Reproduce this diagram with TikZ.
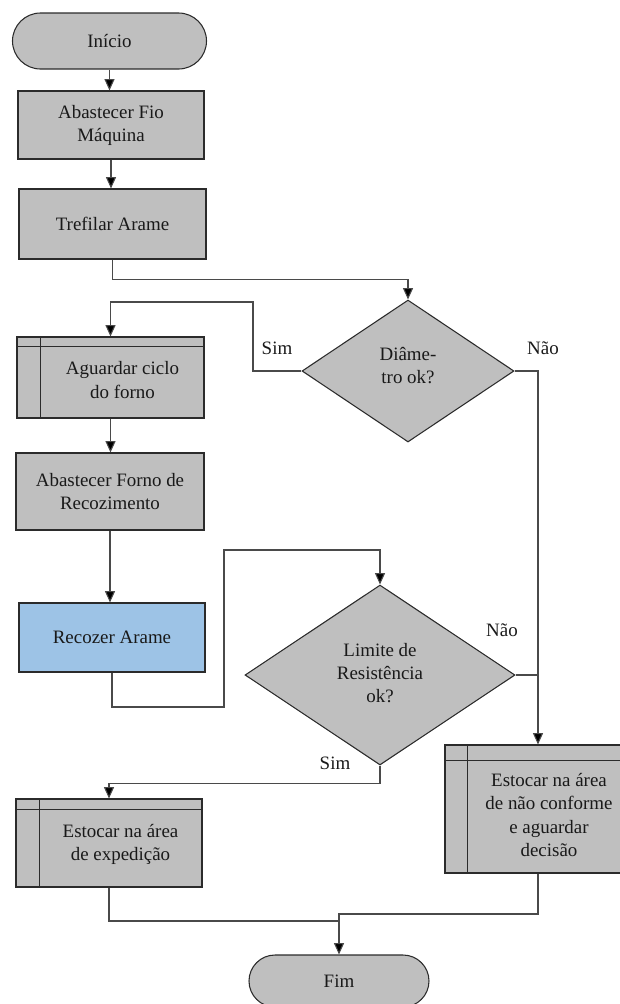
\documentclass[tikz,border=0pt]{standalone}
\usepackage{fontspec}
\setmainfont{Liberation Serif}
\usetikzlibrary{arrows.meta,shapes.geometric,calc}
\newdimen\pxu
\pxu=0.75pt
\definecolor{boxgray}{HTML}{BFBFBF}
\definecolor{boxblue}{HTML}{9DC3E6}
\definecolor{bordc}{HTML}{2B2B2B}
\definecolor{linec}{HTML}{4A4A4A}
\tikzset{
  base/.style={draw=bordc, line width=0.8pt, fill=boxgray, inner sep=0pt,
    font=\fontsize{14.2}{17.3}\selectfont, align=center, text=black!90},
  procbox/.style={base, rectangle},
  termbox/.style={base, rectangle, rounded corners=19pt},
  decbox/.style={base, diamond, aspect=1},
  txt/.style={inner sep=0pt, font=\fontsize{14.2}{17.3}\selectfont, align=center, text=black!90},
  conn/.style={draw=linec, line width=0.8pt},
  arr/.style={conn, -{Triangle[width=7.5pt,length=8.5pt,fill=black]}},
  lbl/.style={inner sep=0pt, font=\fontsize{14.2}{17.3}\selectfont, text=black!90},
}
\begin{document}
\begin{tikzpicture}[x=0.75pt,y=-0.75pt]
\useasboundingbox (0,0) rectangle (620,1004);
\clip (0,0) rectangle (620,1004);

% nodes
\node[termbox, minimum width=194\pxu, minimum height=56\pxu, rounded corners=21pt] (start) at (109.5,41) {Início};
\node[procbox, minimum width=186\pxu, minimum height=68\pxu] (fio) at (111,125) {Abastecer Fio\\Máquina};
\node[procbox, minimum width=187\pxu, minimum height=70\pxu] (tref) at (112.5,224) {Trefilar Arame};
\node[decbox, minimum width=212\pxu, minimum height=142\pxu] (d1) at (408,371) {};
\node[txt] (d1t) at (408,366) {Diâme-\\tro ok?};

\node[procbox, minimum width=187\pxu, minimum height=81\pxu] (aguardar) at (110.5,377.5) {};
\node[txt] (aguardart) at (122.5,380) {Aguardar ciclo\\do forno};

\node[procbox, minimum width=188\pxu, minimum height=77\pxu] (forno) at (110,491.5) {Abastecer Forno de\\Recozimento};
\node[procbox, fill=boxblue, minimum width=186\pxu, minimum height=69\pxu] (recozer) at (112,637.5) {Recozer Arame};

\node[decbox, minimum width=270\pxu, minimum height=180\pxu] (d2) at (380,675) {};
\node[txt] (d2t) at (380,673) {Limite de\\Resistência\\ok?};

\node[procbox, minimum width=186\pxu, minimum height=88\pxu] (exped) at (109,843) {};
\node[txt] (expedt) at (120.5,844) {Estocar na área\\de expedição};

\node[procbox, minimum width=186\pxu, minimum height=128\pxu] (naoconf) at (538,809) {};
\node[txt] (naoconft) at (549,815) {Estocar na área\\de não conforme\\e aguardar\\decisão};

\node[termbox, minimum width=180\pxu, minimum height=52\pxu, rounded corners=19.5pt] (fim) at (339,981) {Fim};

% subprocess inner lines
\draw[draw=bordc, line width=0.8pt] ([xshift=24\pxu]aguardar.north west) -- ([xshift=24\pxu]aguardar.south west);
\draw[draw=bordc, line width=0.8pt] ([yshift=-10\pxu]aguardar.north west) -- ([yshift=-10\pxu]aguardar.north east);
\draw[draw=bordc, line width=0.8pt] ([xshift=24\pxu]exped.north west) -- ([xshift=24\pxu]exped.south west);
\draw[draw=bordc, line width=0.8pt] ([yshift=-11\pxu]exped.north west) -- ([yshift=-11\pxu]exped.north east);
\draw[draw=bordc, line width=0.8pt] ([xshift=23\pxu]naoconf.north west) -- ([xshift=23\pxu]naoconf.south west);
\draw[draw=bordc, line width=0.8pt] ([yshift=-16\pxu]naoconf.north west) -- ([yshift=-16\pxu]naoconf.north east);

% junction coordinates
\coordinate (c1) at (253,302);
\coordinate (l1) at (224,707);
\coordinate (l2) at (224,550);
\coordinate (j1) at (339,921);
\coordinate (j2) at (339,914);

% connectors
\draw[arr] (start.south) -- (start.south |- fio.north);
\draw[arr] (fio.south) -- (fio.south |- tref.north);
\draw[arr] (tref.south) -- ++(0,20) -| (d1.north);
\draw[arr] (d1.west) -| (c1) -| (aguardar.north);
\draw[arr] (d1.east) -| (naoconf.north);
\draw[arr] (aguardar.south) -- (aguardar.south |- forno.north);
\draw[arr] (forno.south) -- (forno.south |- recozer.north);
\draw[arr] (recozer.south) |- (l1) -- (l2) -| (d2.north);
\draw[conn] (d2.east) -- (d2.east -| naoconf.north);
\draw[arr] (d2.south) -- ++(0,18) -| (exped.north);
\draw[conn] (exped.south) |- (j1);
\draw[arr] (naoconf.south) |- (j2) -- (fim.north);

% labels
\node[lbl] (sim1) at (277,348) {Sim};
\node[lbl] (nao1) at (543,348) {Não};
\node[lbl] (nao2) at (502,630) {Não};
\node[lbl] (sim2) at (335,763) {Sim};
\end{tikzpicture}
\end{document}
